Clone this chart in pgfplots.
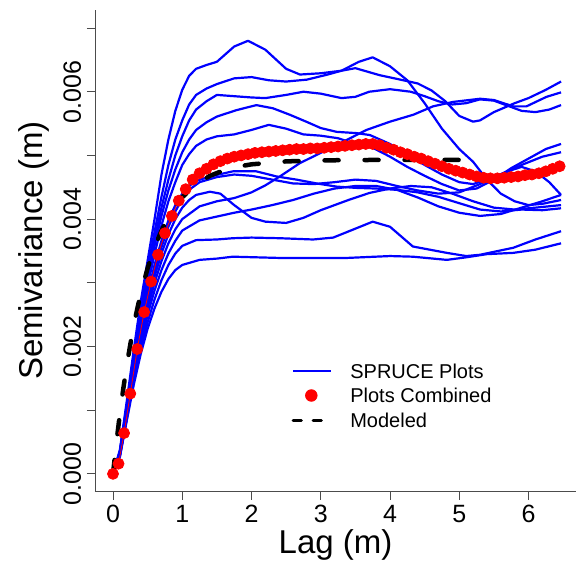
\documentclass[border=0pt]{standalone}
\usepackage{fontspec}
\setmainfont{Liberation Sans}
\usepackage{pgfplots}
\pgfplotsset{compat=1.18}

\definecolor{rblue}{RGB}{0,0,255}
\definecolor{rred}{RGB}{255,0,0}

\begin{document}
\begin{tikzpicture}
\begin{axis}[
    scale only axis,
    width=481pt, height=482pt,
    xmin=-0.26, xmax=6.686,
    ymin=-0.00028, ymax=0.007288,
    axis x line*=bottom, axis y line*=left,
    axis line style={black!70, line width=0.8pt},
    tick style={black!70, line width=0.8pt},
    tick align=outside, major tick length=8pt,
    xtick={0,1,2,3,4,5,6},
    xticklabels={0,1,2,3,4,5,6},
    ytick={0,0.001,0.002,0.003,0.004,0.005,0.006,0.007},
    yticklabels={0.000,,0.002,,0.004,,0.006,},
    scaled y ticks=false,
    ticklabel style={font=\fontsize{25}{30}\selectfont, inner sep=0pt},
    xticklabel style={anchor=north, text height=18pt, yshift=-5pt},
    yticklabel style={xshift=-6pt, rotate=90, anchor=base},
    xlabel={Lag (m)},
    ylabel={Semivariance (m)},
    label style={font=\fontsize{33}{40}\selectfont, inner sep=0pt},
    xlabel style={at={(axis description cs:0.5,0)}, anchor=base, yshift=-61.5pt},
    ylabel style={at={([xshift=-52.7pt]axis description cs:0,0.5)}, anchor=base, rotate=0},
    legend cell align=left,
    legend style={at={(axis cs:2.578,0.001722)}, anchor=north west,
        draw=none, fill=none, inner sep=0pt, outer sep=0pt,
        font=\fontsize{20}{24}\selectfont,
        cells={anchor=base west},
        nodes={inner sep=0pt, text height=14.5pt, text depth=9.8pt},
        /tikz/every odd column/.append style={column sep=18.7pt}},
    every axis plot/.append style={line join=round},
]

% individual plots
\addplot[rblue, line width=2.2pt,
    legend image code/.code={\draw[rblue, line width=2pt] (0pt,7.3pt) -- (37.6pt,7.3pt);}]
 coordinates {
 (0,0) (0.1,0.00038) (0.2,0.00115) (0.3,0.00195) (0.4,0.00270) (0.5,0.00335)
 (0.6,0.00400) (0.7,0.00470) (0.8,0.00525) (0.9,0.00570) (1.0,0.00603)
 (1.1,0.00625) (1.2,0.00636) (1.35,0.00642) (1.5,0.00647) (1.75,0.00671)
 (1.95,0.00680) (2.2,0.00666) (2.5,0.00636) (2.7,0.00627) (3.0,0.00629)
 (3.3,0.00633) (3.55,0.00647) (3.75,0.00654) (4.0,0.00640) (4.25,0.00618)
 (4.5,0.00582) (4.75,0.00542) (5.0,0.00510) (5.2,0.00490) (5.4,0.00462)
 (5.6,0.00440) (5.8,0.00428) (6.0,0.00422) (6.2,0.00424) (6.47,0.00430)
};
\addlegendentry{SPRUCE Plots}

\addplot[rblue, line width=2.2pt, forget plot] coordinates {
 (0,0) (0.1,0.00036) (0.2,0.00110) (0.3,0.00188) (0.4,0.00260) (0.5,0.00322)
 (0.6,0.00380) (0.7,0.00435) (0.8,0.00485) (0.9,0.00525) (1.0,0.00555)
 (1.1,0.00580) (1.2,0.00595) (1.35,0.00605) (1.5,0.00612) (1.75,0.00621)
 (2.0,0.00623) (2.25,0.00618) (2.5,0.00616) (2.8,0.00619) (3.1,0.00627)
 (3.3,0.00633) (3.5,0.00637) (3.85,0.00626) (4.15,0.00619) (4.4,0.00613)
 (4.6,0.00602) (4.8,0.00585) (5.0,0.00562) (5.2,0.00553) (5.3,0.00555)
 (5.5,0.00568) (5.8,0.00582) (6.0,0.00590) (6.25,0.00603) (6.47,0.00616)
};
\addplot[rblue, line width=2.2pt, forget plot] coordinates {
 (0,0) (0.1,0.00035) (0.2,0.00107) (0.3,0.00182) (0.4,0.00252) (0.5,0.00312)
 (0.6,0.00368) (0.7,0.00418) (0.8,0.00462) (0.9,0.00500) (1.0,0.00530)
 (1.1,0.00555) (1.2,0.00572) (1.35,0.00585) (1.5,0.00595) (1.75,0.00593)
 (2.0,0.00591) (2.2,0.00590) (2.5,0.00595) (2.75,0.00600) (3.0,0.00597)
 (3.3,0.00590) (3.5,0.00592) (3.7,0.00600) (4.0,0.00604) (4.3,0.00600)
 (4.5,0.00593) (4.7,0.00585) (4.9,0.00580) (5.1,0.00582) (5.3,0.00588)
 (5.5,0.00586) (5.7,0.00578) (5.9,0.00570) (6.1,0.00568) (6.3,0.00572)
 (6.47,0.00579)
};
\addplot[rblue, line width=2.2pt, forget plot] coordinates {
 (0,0) (0.1,0.00034) (0.2,0.00105) (0.3,0.00178) (0.4,0.00245) (0.5,0.00305)
 (0.6,0.00358) (0.7,0.00405) (0.8,0.00445) (0.9,0.00478) (1.0,0.00505)
 (1.1,0.00525) (1.2,0.00540) (1.35,0.00552) (1.5,0.00561) (1.78,0.00571)
 (2.07,0.00579) (2.31,0.00574) (2.55,0.00564) (2.79,0.00553) (3.0,0.00543)
 (3.23,0.00537) (3.52,0.00535) (3.71,0.00532) (4.0,0.00518) (4.25,0.00502)
 (4.5,0.00485) (4.75,0.00470) (5.0,0.00458) (5.2,0.00455) (5.4,0.00462)
 (5.7,0.00475) (5.9,0.00482) (6.1,0.00475) (6.3,0.00458) (6.47,0.00438)
};
\addplot[rblue, line width=2.2pt, forget plot] coordinates {
 (0,0) (0.1,0.00033) (0.2,0.00102) (0.3,0.00173) (0.4,0.00238) (0.5,0.00295)
 (0.6,0.00345) (0.7,0.00390) (0.8,0.00428) (0.9,0.00458) (1.0,0.00485)
 (1.1,0.00502) (1.2,0.00515) (1.35,0.00525) (1.5,0.00530) (1.75,0.00533)
 (2.0,0.00540) (2.25,0.00548) (2.5,0.00542) (2.75,0.00533) (3.0,0.00531)
 (3.25,0.00527) (3.5,0.00518) (3.75,0.00512) (4.0,0.00498) (4.25,0.00482)
 (4.5,0.00468) (4.75,0.00455) (5.0,0.00445) (5.25,0.00448) (5.5,0.00462)
 (5.75,0.00480) (6.0,0.00495) (6.25,0.00510) (6.47,0.00518)
};
\addplot[rblue, line width=2.2pt, forget plot] coordinates {
 (0,0) (0.1,0.00032) (0.2,0.00098) (0.3,0.00166) (0.4,0.00228) (0.5,0.00282)
 (0.6,0.00328) (0.7,0.00366) (0.8,0.00398) (0.9,0.00422) (1.0,0.00440)
 (1.1,0.00452) (1.2,0.00460) (1.4,0.00467) (1.73,0.00475) (2.07,0.00475)
 (2.36,0.00467) (2.65,0.00462) (2.94,0.00456) (3.23,0.00451) (3.52,0.00449)
 (3.8,0.00448) (4.1,0.00446) (4.4,0.00442) (4.7,0.00435) (5.0,0.00425)
 (5.3,0.00415) (5.6,0.00412) (5.9,0.00415) (6.2,0.00414) (6.47,0.00417)
};
\addplot[rblue, line width=2.2pt, forget plot] coordinates {
 (0,0) (0.1,0.00031) (0.2,0.00096) (0.3,0.00162) (0.4,0.00222) (0.5,0.00274)
 (0.6,0.00318) (0.7,0.00356) (0.8,0.00388) (0.9,0.00412) (1.0,0.00432)
 (1.1,0.00446) (1.25,0.00458) (1.5,0.00466) (1.75,0.00470) (2.0,0.00468)
 (2.3,0.00462) (2.6,0.00456) (2.9,0.00455) (3.2,0.00458) (3.5,0.00462)
 (3.8,0.00460) (4.1,0.00452) (4.4,0.00445) (4.7,0.00440) (5.0,0.00442)
 (5.3,0.00455) (5.6,0.00470) (5.9,0.00485) (6.2,0.00498) (6.47,0.00505)
};
\addplot[rblue, line width=2.2pt, forget plot] coordinates {
 (0,0) (0.1,0.00031) (0.2,0.00095) (0.3,0.00160) (0.4,0.00218) (0.5,0.00268)
 (0.6,0.00310) (0.7,0.00346) (0.8,0.00376) (0.9,0.00400) (1.0,0.00418)
 (1.1,0.00430) (1.2,0.00438) (1.4,0.00443) (1.55,0.00440) (1.75,0.00422)
 (2.0,0.00402) (2.2,0.00396) (2.5,0.00394) (2.75,0.00402) (3.0,0.00414)
 (3.4,0.00430) (3.7,0.00441) (4.0,0.00448) (4.3,0.00452) (4.6,0.00450)
 (4.9,0.00440) (5.2,0.00428) (5.5,0.00418) (5.8,0.00415) (6.1,0.00418)
 (6.47,0.00422)
};
\addplot[rblue, line width=2.2pt, forget plot] coordinates {
 (0,0) (0.1,0.00030) (0.2,0.00093) (0.3,0.00156) (0.4,0.00212) (0.5,0.00260)
 (0.6,0.00300) (0.7,0.00334) (0.8,0.00362) (0.9,0.00384) (1.0,0.00400)
 (1.25,0.00420) (1.5,0.00428) (1.75,0.00433) (2.0,0.00442) (2.2,0.00453)
 (2.41,0.00467) (2.7,0.00488) (3.0,0.00504) (3.37,0.00524) (3.66,0.00540)
 (4.0,0.00553) (4.34,0.00564) (4.62,0.00577) (4.91,0.00584) (5.3,0.00589)
 (5.5,0.00587) (5.78,0.00577) (5.97,0.00577) (6.26,0.00592) (6.47,0.00599)
};
\addplot[rblue, line width=2.2pt, forget plot] coordinates {
 (0,0) (0.1,0.00029) (0.2,0.00090) (0.3,0.00150) (0.4,0.00204) (0.5,0.00250)
 (0.6,0.00288) (0.7,0.00320) (0.8,0.00346) (0.9,0.00366) (1.0,0.00382)
 (1.25,0.00398) (1.5,0.00404) (1.75,0.00410) (2.0,0.00415) (2.3,0.00422)
 (2.6,0.00430) (2.9,0.00440) (3.2,0.00448) (3.5,0.00452) (3.8,0.00452)
 (4.1,0.00446) (4.4,0.00434) (4.7,0.00420) (5.0,0.00410) (5.3,0.00405)
 (5.6,0.00408) (5.9,0.00418) (6.2,0.00428) (6.47,0.00438)
};
\addplot[rblue, line width=2.2pt, forget plot] coordinates {
 (0,0) (0.1,0.00028) (0.2,0.00087) (0.3,0.00145) (0.4,0.00196) (0.5,0.00238)
 (0.6,0.00274) (0.7,0.00304) (0.8,0.00328) (0.9,0.00346) (1.0,0.00358)
 (1.2,0.00367) (1.5,0.00368) (1.73,0.00370) (2.0,0.00371) (2.41,0.00370)
 (2.89,0.00368) (3.18,0.00371) (3.5,0.00385) (3.75,0.00396) (4.0,0.00388)
 (4.33,0.00357) (4.82,0.00347) (5.1,0.00342) (5.3,0.00344) (5.78,0.00355)
 (6.1,0.00368) (6.47,0.00381)
};
\addplot[rblue, line width=2.2pt, forget plot] coordinates {
 (0,0) (0.1,0.00027) (0.2,0.00084) (0.3,0.00140) (0.4,0.00188) (0.5,0.00228)
 (0.6,0.00260) (0.7,0.00286) (0.8,0.00306) (0.9,0.00320) (1.0,0.00328)
 (1.25,0.00336) (1.5,0.00338) (1.73,0.00341) (2.41,0.00339) (3.37,0.00339)
 (4.0,0.00342) (4.33,0.00341) (4.82,0.00336) (5.1,0.00340) (5.4,0.00345)
 (5.78,0.00347) (6.1,0.00352) (6.47,0.00362)
};

% all plots combined
\addplot[rred, line width=0.8pt, mark=*, mark size=5.5pt,
    mark options={solid, fill=rred, draw=rred},
    legend image code/.code={\draw[only marks, mark=*, mark size=5.8pt, rred]
        plot coordinates {(18.3pt,7.5pt)};}]
 coordinates {
 (0,0) (0.08,0.00016) (0.16,0.00064) (0.25,0.00126) (0.35,0.00196)
 (0.45,0.00254) (0.55,0.00302) (0.65,0.00344) (0.75,0.00378) (0.85,0.00405)
 (0.95,0.00429) (1.05,0.00447) (1.15,0.00462) (1.25,0.00472) (1.35,0.00479)
 (1.45,0.00486) (1.55,0.00491) (1.65,0.00495) (1.75,0.00498) (1.85,0.00500)
 (1.95,0.00502) (2.05,0.00504) (2.15,0.00505) (2.25,0.00506) (2.35,0.00507)
 (2.45,0.00508) (2.55,0.00509) (2.65,0.00510) (2.75,0.00510) (2.85,0.00511)
 (2.95,0.00511) (3.05,0.00512) (3.15,0.00513) (3.25,0.00514) (3.35,0.00515)
 (3.45,0.00516) (3.55,0.00517) (3.65,0.00518) (3.75,0.00518) (3.85,0.00516)
 (3.95,0.00512) (4.05,0.00509) (4.15,0.00505) (4.25,0.00502) (4.35,0.00498)
 (4.45,0.00495) (4.55,0.00491) (4.65,0.00487) (4.75,0.00483) (4.85,0.00479)
 (4.95,0.00476) (5.05,0.00473) (5.15,0.00470) (5.25,0.00467) (5.35,0.00465)
 (5.45,0.00464) (5.55,0.00464) (5.65,0.00465) (5.75,0.00466) (5.85,0.00467)
 (5.95,0.00469) (6.05,0.00470) (6.15,0.00472) (6.25,0.00475) (6.35,0.00479)
 (6.45,0.00483)
};
\addlegendentry{Plots Combined}

% fitted model
\addplot[black, line width=4.5pt, line cap=round, dash pattern=on 14pt off 26pt,
    legend image code/.code={\draw[black, line width=3pt, dash pattern=on 8.3pt off 11.7pt]
        (0pt,7pt) -- (29pt,7pt);}]
 coordinates {
 (0,0) (0.05,0.000498) (0.1,0.000945) (0.15,0.001347) (0.2,0.001709)
 (0.25,0.002034) (0.3,0.002326) (0.35,0.002590) (0.4,0.002825) (0.5,0.003229)
 (0.6,0.003555) (0.7,0.003818) (0.8,0.004031) (0.9,0.004204) (1.0,0.004343)
 (1.2,0.004546) (1.4,0.004680) (1.6,0.004766) (1.8,0.004823) (2.0,0.004860)
 (2.5,0.004906) (3.0,0.004922) (3.5,0.004927) (4.0,0.004930) (4.5,0.004930)
 (5.0,0.004930)
};
\addlegendentry{Modeled}
\end{axis}
\pgfresetboundingbox
\path (-95pt,-68.3pt) rectangle (481pt,491.7pt);
\end{tikzpicture}
\end{document}
